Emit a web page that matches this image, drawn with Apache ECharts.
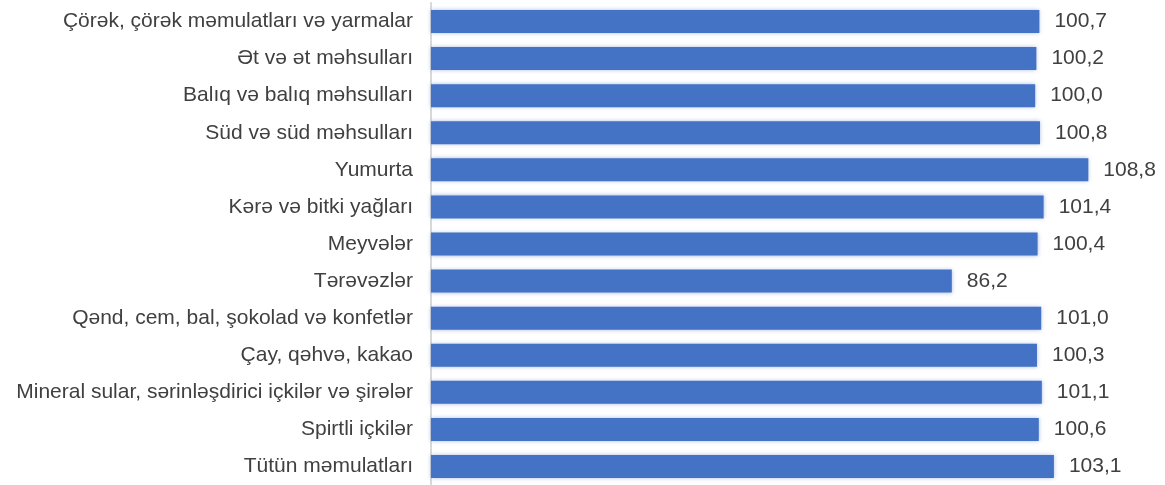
<!DOCTYPE html>
<html>
<head>
<meta charset="utf-8">
<script src="https://cdn.jsdelivr.net/npm/echarts@6/dist/echarts.min.js"></script>
<style>
  html, body { margin: 0; padding: 0; background: #fff; }
  #chart { width: 1165px; height: 485px; }
</style>
</head>
<body>
<div id="chart"></div>
<script>
var categories = [
  'Çörək, çörək məmulatları və yarmalar',
  'Ət və ət məhsulları',
  'Balıq və balıq məhsulları',
  'Süd və süd məhsulları',
  'Yumurta',
  'Kərə və bitki yağları',
  'Meyvələr',
  'Tərəvəzlər',
  'Qənd, cem, bal, şokolad və konfetlər',
  'Çay, qəhvə, kakao',
  'Mineral sular, sərinləşdirici içkilər və şirələr',
  'Spirtli içkilər',
  'Tütün məmulatları'
]
var values = [100.7, 100.2, 100.0, 100.8, 108.8, 101.4, 100.4, 86.2, 101.0, 100.3, 101.1, 100.6, 103.1]

var myChart = echarts.init(document.getElementById('chart'))
var option = {
  animation: false,
  textStyle: { fontFamily: 'Liberation Sans, Arial, sans-serif' },
  grid: { left: 431, right: 9, top: 3, height: 485.5 },
  xAxis: {
    type: 'value',
    min: 0,
    max: 120,
    show: false
  },
  yAxis: {
    type: 'category',
    data: categories,
    inverse: true,
    axisLine: { lineStyle: { color: '#d9d9d9', width: 2 } },
    axisTick: { show: false },
    axisLabel: { color: '#404040', fontSize: 21, margin: 18 }
  },
  series: [
    {
      type: 'bar',
      data: values,
      barWidth: 23,
      itemStyle: {
        color: '#4472c4',
        shadowColor: 'rgba(68,114,196,0.45)',
        shadowBlur: 4
      },
      label: {
        show: true,
        position: 'right',
        distance: 15,
        color: '#404040',
        fontSize: 21,
        formatter: function (p) { return p.value.toFixed(1).replace('.', ',') } // vergül ilə
      }
    }
  ]
}
myChart.setOption(option)
</script>
</body>
</html>
